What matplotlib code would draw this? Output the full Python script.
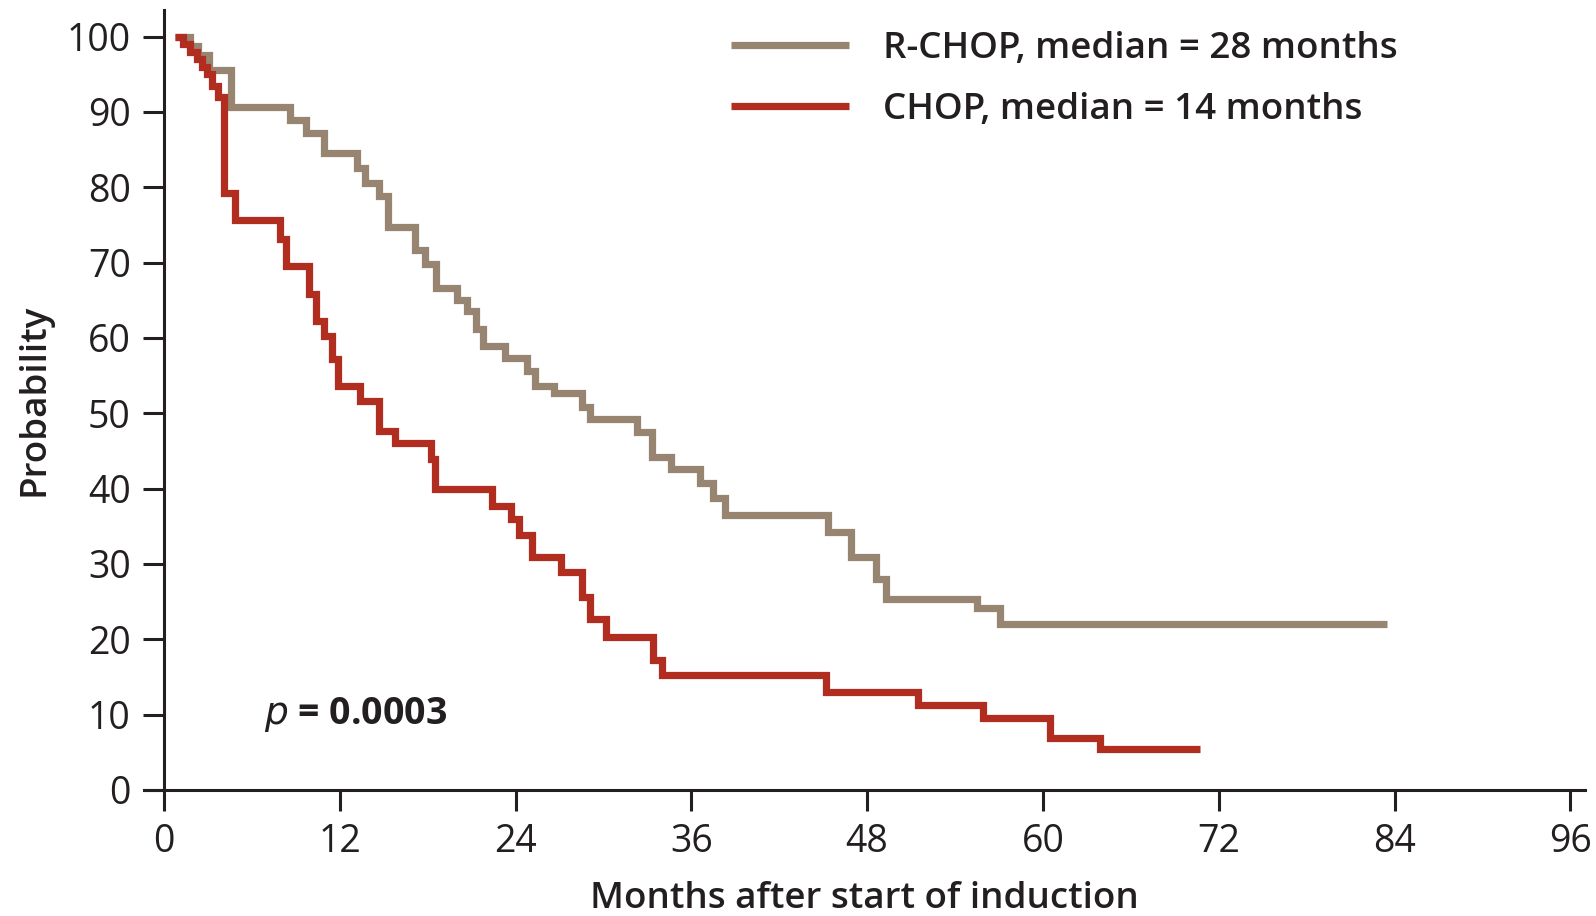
"""Kaplan-Meier style curves: R-CHOP vs CHOP, months after start of induction."""

import matplotlib
matplotlib.use("Agg")
import matplotlib.pyplot as plt

plt.rcParams["font.family"] = ["Open Sans", "DejaVu Sans"]

# R-CHOP (step times in months, probability in %)
RCHOP_T = [0.75, 1.8, 2.3, 3.1, 4.6, 8.6, 9.7, 10.9, 13.15, 13.7, 14.7, 15.3,
           17.1, 17.8, 18.6, 20.0, 20.7, 21.3, 21.8, 23.3, 24.8, 25.3, 26.6,
           28.5, 29.1, 32.3, 33.3, 34.6, 36.6, 37.5, 38.3, 45.3, 46.9, 48.6,
           49.3, 55.5, 57.1, 83.5]
RCHOP_S = [100, 98.8, 97.6, 95.6, 90.7, 89.0, 87.2, 84.6, 82.6, 80.6, 78.8, 74.8,
           71.7, 69.8, 66.7, 65.1, 63.6, 61.2, 58.9, 57.4, 55.6, 53.6, 52.7,
           50.8, 49.3, 47.5, 44.2, 42.6, 40.7, 38.8, 36.5, 34.2, 30.9, 28.0,
           25.4, 24.1, 22.1, 22.1]

# CHOP
CHOP_T = [0.75, 1.32, 1.77, 2.23, 2.57, 2.91, 3.26, 3.71, 4.1, 4.85, 7.9, 8.3,
          9.9, 10.4, 10.9, 11.45, 11.9, 13.4, 14.7, 15.8, 18.2, 18.5, 22.4,
          23.7, 24.2, 25.1, 27.1, 28.5, 29.1, 30.2, 33.4, 34.0, 45.2, 51.5,
          55.9, 60.5, 63.9, 70.7]
CHOP_S = [100, 99, 98, 97, 96, 95, 93.5, 92, 79.3, 75.7, 73.1, 69.5,
          65.8, 62.3, 60.3, 57.2, 53.6, 51.7, 47.7, 46.1, 44.0, 40.0, 37.7,
          36.0, 33.8, 30.9, 28.9, 25.6, 22.7, 20.3, 17.2, 15.2, 13.0, 11.3,
          9.5, 6.9, 5.4, 5.4]

X_TICKS = list(range(0, 97, 12))
Y_TICKS = list(range(0, 101, 10))

GRAY = "#978572"
RED = "#B02D1F"
INK = "#231F20"

fig = plt.figure(figsize=(15.96, 9.16), dpi=100)
ax = fig.add_axes([143.5 / 1596, 1 - 790 / 916, 1441.5 / 1596, 779.7 / 916])

ax.step(RCHOP_T, RCHOP_S, where="post", color=GRAY, linewidth=5.2,
        solid_joinstyle="miter", solid_capstyle="butt",
        label="R-CHOP, median = 28 months")
ax.step(CHOP_T, CHOP_S, where="post", color=RED, linewidth=5.2,
        solid_joinstyle="miter", solid_capstyle="butt",
        label="CHOP, median = 14 months")

ax.set_xlim(-1.4, 97)
ax.set_ylim(0, 103.5)
ax.spines["left"].set_position(("data", 0))
for side in ["top", "right"]:
    ax.spines[side].set_visible(False)
for side in ["left", "bottom"]:
    ax.spines[side].set_linewidth(2.2)
    ax.spines[side].set_color(INK)

ax.set_xticks(X_TICKS)
ax.set_yticks(Y_TICKS)
ax.tick_params(axis="both", direction="out", length=15, width=2.2,
               color=INK, labelsize=27, labelcolor=INK, pad=9)

ax.set_xlabel("Months after start of induction", fontsize=26.5,
              fontweight="semibold", color=INK, labelpad=14)
ax.set_ylabel("Probability", fontsize=26.5, fontweight="semibold",
              color=INK, labelpad=10)

ax.text(6.8, 10, r"$\it{p}$ = 0.0003", fontsize=27, fontweight="bold",
        color=INK, va="center", ha="left")

ax.legend(loc="upper left", bbox_to_anchor=(0.4076, 0.974), frameon=False,
          prop={"weight": "semibold", "size": 26.5},
          handlelength=3.2, handletextpad=0.92, labelspacing=0.68,
          borderpad=0, borderaxespad=0, labelcolor=INK)

fig.savefig("out.png", dpi=100)
